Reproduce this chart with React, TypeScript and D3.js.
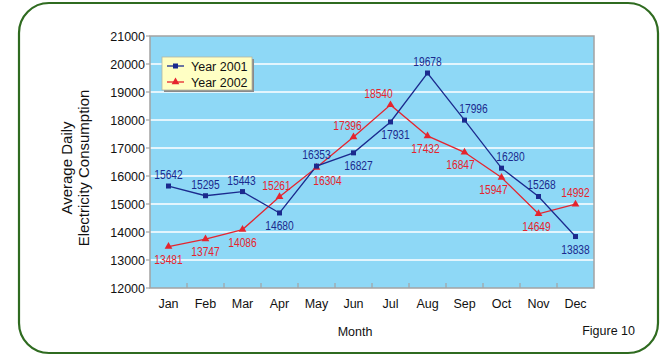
import React from 'react'
import * as d3 from 'd3'

const months = ["Jan", "Feb", "Mar", "Apr", "May", "Jun", "Jul", "Aug", "Sep", "Oct", "Nov", "Dec"]
const year2001 = [15642, 15295, 15443, 14680, 16353, 16827, 17931, 19678, 17996, 16280, 15268, 13838]
const year2002 = [13481, 13747, 14086, 15261, 16304, 17396, 18540, 17432, 16847, 15947, 14649, 14992]
const yTicks = [12000, 13000, 14000, 15000, 16000, 17000, 18000, 19000, 20000, 21000]

// where each value label sits relative to its point: t = above, b = below, r = right
const place2001 = ["t", "t", "t", "b", "t", "b", "b", "t", "t", "t", "t", "b"]
const place2002 = ["b", "b", "b", "t", "r", "t", "t", "b", "b", "b", "b", "t"]
// small sideways nudges, as in the original layout
const nudge2001 = [0, 0, -1, 0, 0, 5, 5, 0, 9, 9, 3, 0]
const nudge2002 = [0, 0, 0, -3, 0, -6, -12, -2, -4, -8, -2, 0]

const BLUE = "#1b2a8e"
const RED = "#e5242e"
const FONT = "Arial, 'Liberation Sans', sans-serif"

const App = () => {
  const left = 150, right = 594, top = 36, bottom = 288

  const x = d3.scaleBand().domain(months).range([left, right])
  const y = d3.scaleLinear().domain([12000, 21000]).range([bottom, top])
  const cx = (m: string) => (x(m) as number) + x.bandwidth() / 2

  const line = d3.line<number>()
    .x((_, i) => cx(months[i]))
    .y(d => y(d))

  const labelPos = (p: string, i: number, v: number, dx: number) => {
    const px = cx(months[i]) + dx, py = y(v)
    if (p === "t") return [px, py - 7]
    if (p === "b") return [px, py + 17]
    return [px + 11, py + 18]
  }

  const tri = d3.symbol(d3.symbolTriangle, 26)()

  const valueLabel = (key: string, lx: number, ly: number, v: number, fill: string) => (
    <g key={key} transform={`translate(${lx},${ly}) scale(0.76,1)`}>
      <text textAnchor="middle" fontFamily={FONT} fontSize={13.5} fill={fill}>{v}</text>
    </g>
  )

  return (
    <svg width={670} height={361} style={{ display: "block", position: "absolute", left: 0, top: 0 }}>
      <rect x={0} y={0} width={670} height={361} fill="#fff" />
      <rect x={19} y={3} width={639} height={350} rx={30} ry={30} fill="#fff" stroke="#2f6b20" strokeWidth={2.2} />

      {/* plot area */}
      <rect x={left} y={top} width={right - left} height={bottom - top} fill="#8ed8f6" />
      {yTicks.slice(1, -1).map(t => (
        <line key={t} x1={left} x2={right} y1={y(t)} y2={y(t)} stroke="#fff" strokeWidth={1.5} />
      ))}
      <rect x={left} y={top} width={right - left} height={bottom - top} fill="none" stroke="#a3a3a3" strokeWidth={1.5} />

      {/* y axis */}
      {yTicks.map(t => (
        <g key={t}>
          <line x1={left - 4} x2={left} y1={y(t)} y2={y(t)} stroke="#a3a3a3" strokeWidth={1.2} />
          <text x={left - 5} y={y(t) + 4.5} textAnchor="end" fontFamily={FONT} fontSize={12.5} fill="#111">{t}</text>
        </g>
      ))}

      {/* x axis */}
      {months.map((m, i) => (
        <g key={m}>
          {i > 0 && <line x1={x(m)} x2={x(m)} y1={bottom} y2={bottom - 5} stroke="#a3a3a3" strokeWidth={1.2} />}
          <text x={cx(m)} y={308} textAnchor="middle" fontFamily={FONT} fontSize={12.5} fill="#111">{m}</text>
        </g>
      ))}

      {/* titles */}
      <text transform="translate(72,168) rotate(-90)" textAnchor="middle" fontFamily={FONT} fontSize={15} fill="#111">Average Daily</text>
      <text transform="translate(89,168) rotate(-90)" textAnchor="middle" fontFamily={FONT} fontSize={15} fill="#111">Electricity Consumption</text>
      <text x={355} y={336} textAnchor="middle" fontFamily={FONT} fontSize={12.5} fill="#111">Month</text>
      <text x={635} y={335} textAnchor="end" fontFamily={FONT} fontSize={12.5} fill="#111">Figure 10</text>

      {/* series */}
      <path d={line(year2002) || ""} fill="none" stroke={RED} strokeWidth={1.3} />
      <path d={line(year2001) || ""} fill="none" stroke={BLUE} strokeWidth={1.3} />
      {year2002.map((v, i) => (
        <path key={"r" + i} d={tri || ""} transform={`translate(${cx(months[i])},${y(v)})`} fill={RED} />
      ))}
      {year2001.map((v, i) => (
        <rect key={"b" + i} x={cx(months[i]) - 2.5} y={y(v) - 2.5} width={5} height={5} fill={BLUE} />
      ))}

      {/* value labels */}
      {year2001.map((v, i) => {
        const [lx, ly] = labelPos(place2001[i], i, v, nudge2001[i])
        return valueLabel("lb" + i, lx, ly, v, BLUE)
      })}
      {year2002.map((v, i) => {
        const [lx, ly] = labelPos(place2002[i], i, v, nudge2002[i])
        return valueLabel("lr" + i, lx, ly, v, RED)
      })}

      {/* legend */}
      <rect x={164} y={59} width={90} height={33} fill="#8a8a8a" />
      <rect x={162} y={57} width={90} height={33} fill="#ffffc4" stroke="#b5b5a0" strokeWidth={0.8} />
      <line x1={167} x2={184} y1={66} y2={66} stroke={BLUE} strokeWidth={1.3} />
      <rect x={173} y={63.5} width={5} height={5} fill={BLUE} />
      <text x={191} y={70.5} fontFamily={FONT} fontSize={12.5} fill="#111">Year 2001</text>
      <line x1={167} x2={184} y1={82} y2={82} stroke={RED} strokeWidth={1.3} />
      <path d={tri || ""} transform="translate(175.5,82)" fill={RED} />
      <text x={191} y={86.5} fontFamily={FONT} fontSize={12.5} fill="#111">Year 2002</text>
    </svg>
  )
}

export default App
